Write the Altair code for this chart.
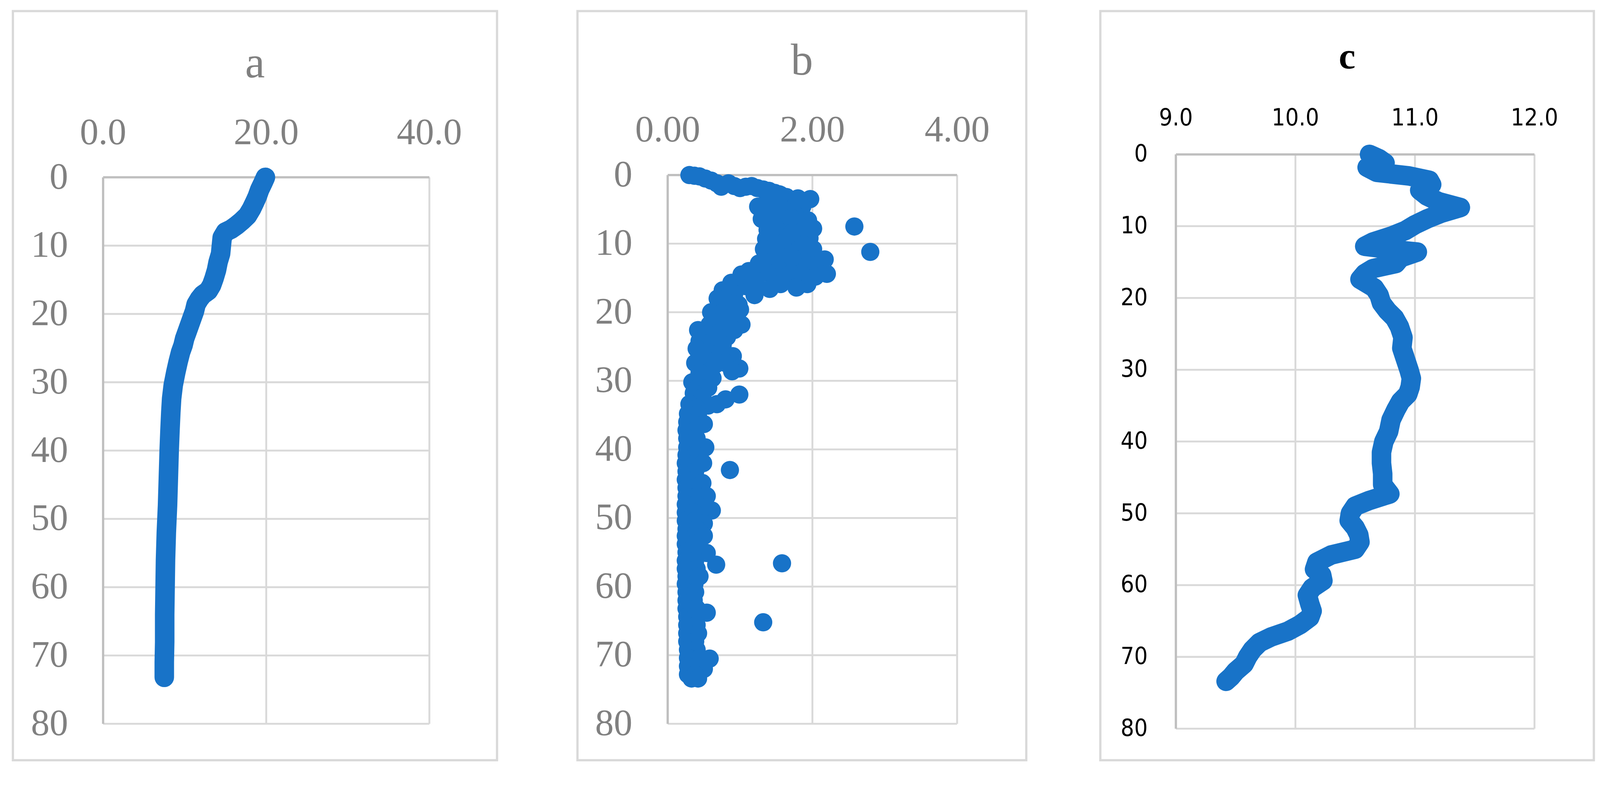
import altair as alt
import pandas as pd

# ---------------- data ----------------
depth_ticks = [0, 10, 20, 30, 40, 50, 60, 70, 80]
depth_labels = ["0", "10", "20", "30", "40", "50", "60", "70", "80"]
a_ticks = [0, 20, 40]
a_labels = ["0.0", "20.0", "40.0"]
b_ticks = [0, 2, 4]
b_labels = ["0.00", "2.00", "4.00"]
c_ticks = [9, 10, 11, 12]
c_labels = ["9.0", "10.0", "11.0", "12.0"]
titles = ["a", "b", "c"]

a_depth = [0.0, 0.8, 1.8, 2.8, 3.6, 4.6, 5.6, 6.4, 7.0, 7.6, 8.0, 8.8, 10.0, 11.2, 12.4,
           13.6, 14.8, 15.8, 16.6, 17.2, 17.8, 18.6, 19.6, 20.6, 21.6, 22.6, 23.6, 24.6,
           25.6, 27.0, 28.6, 30.4, 32.4, 34.4, 37.0, 40.0, 44.0, 48.0, 52.0, 56.0, 60.0,
           64.0, 68.0, 71.0, 73.2]
a_value = [19.9, 19.6, 19.2, 18.9, 18.6, 18.2, 17.7, 17.0, 16.4, 15.7, 15.0, 14.6, 14.5,
           14.4, 14.1, 13.9, 13.6, 13.3, 12.9, 12.2, 11.8, 11.4, 11.2, 10.9, 10.6, 10.3,
           10.0, 9.8, 9.5, 9.2, 8.9, 8.6, 8.4, 8.3, 8.2, 8.1, 8.0, 7.9, 7.75, 7.65, 7.6,
           7.55, 7.55, 7.5, 7.5]

b_depth = [
    0.0, 0.1, 0.2, 0.5, 0.8, 1.2, 1.7, 1.2, 1.6, 1.9, 1.7, 1.6, 1.9, 2.1, 2.3, 2.6, 2.9, 3.2, 3.5,
    4.6, 4.1, 3.9, 3.9, 4.8, 4.6, 6.4, 5.8, 5.4, 5.8, 6.6, 7.0, 7.2, 7.6, 7.8, 8.0, 9.3, 8.8,
    9.0, 9.4, 9.2, 10.8, 10.8, 10.6, 11.2, 11.0, 11.9, 12.3, 13.2, 13.0, 12.8, 13.4, 12.6, 12.9,
    14.2, 14.8, 14.4, 14.6, 14.4, 14.8, 15.9, 16.4, 15.9, 16.6, 17.5, 16.2, 15.4, 14.5, 15.7, 14.0,
    5.0, 6.2, 8.4, 10.0, 10.2, 11.8, 12.0, 3.4, 2.8,
    7.5, 11.2,
    16.8, 17.3, 18.0, 18.6, 18.9, 20.0, 20.2, 19.6, 20.8, 21.8, 21.4, 21.8, 22.6, 22.6, 23.2,
    23.0, 23.6, 24.2, 24.4, 24.8, 25.3, 25.8, 26.0, 26.4, 27.4, 26.8, 27.6, 27.4, 28.2, 28.6,
    28.6, 28.8, 30.2, 29.8, 29.6, 31.0, 31.0, 31.8, 32.0, 32.7, 32.4, 33.4, 33.4, 33.6, 34.0,
    34.8, 34.8, 36.0, 36.0, 36.3, 37.2, 37.2, 38.4, 38.4, 39.7, 39.7, 39.7, 40.8, 40.8,
    42.0, 42.0, 42.0, 43.0, 43.2, 43.2, 44.4, 44.4, 44.9, 45.6, 45.6, 46.8, 46.8, 46.8,
    48.0, 48.0, 48.9, 48.9, 49.2, 49.2, 50.4, 50.4, 50.8, 51.6, 51.6, 52.6, 52.6, 52.6,
    53.8, 53.8, 55.0, 55.0, 55.1, 56.2, 56.2, 56.8, 56.6, 57.4, 57.4, 58.5, 58.5, 59.6,
    59.6, 60.8, 60.8, 62.0, 62.0, 63.2, 63.2, 63.8, 64.4, 64.4, 65.2, 65.6, 65.6, 66.8,
    66.8, 68.0, 68.0, 69.2, 69.2, 70.4, 70.4, 70.5, 71.6, 71.6, 72.0, 72.8, 72.8, 73.4, 73.4,
]
b_value = [
    0.30, 0.37, 0.44, 0.52, 0.60, 0.68, 0.74, 0.84, 0.92, 1.00, 1.08, 1.16, 1.24, 1.32, 1.40, 1.48, 1.56, 1.64, 1.97,
    1.25, 1.38, 1.52, 1.70, 1.72, 1.86, 1.30, 1.44, 1.58, 1.76, 1.94, 1.50, 1.66, 1.84, 2.01, 1.38, 1.36, 1.50,
    1.66, 1.82, 1.96, 2.01, 1.33, 1.48, 1.64, 1.80, 1.94, 2.17, 2.06, 1.90, 1.74, 1.58, 1.44, 1.26,
    1.38, 1.54, 1.70, 1.86, 2.20, 2.04, 1.93, 1.78, 1.56, 1.41, 1.20, 1.08, 1.22, 1.02, 0.88, 1.12,
    1.60, 1.70, 1.72, 1.58, 1.88, 1.55, 1.72, 1.80, 1.54,
    2.58, 2.80,
    0.76, 0.92, 0.69, 0.82, 0.98, 0.60, 0.74, 1.00, 0.88, 0.58, 0.72, 1.02, 0.92, 0.42, 0.56,
    0.72, 0.82, 0.44, 0.60, 0.76, 0.40, 0.54, 0.70, 0.90, 0.38, 0.52, 0.66, 0.80, 0.99, 0.89,
    0.58, 0.44, 0.34, 0.48, 0.62, 0.42, 0.56, 0.36, 0.99, 0.80, 0.48, 0.68, 0.30, 0.56, 0.40,
    0.28, 0.42, 0.27, 0.40, 0.50, 0.26, 0.38, 0.27, 0.40, 0.27, 0.42, 0.52, 0.26, 0.38,
    0.25, 0.40, 0.49, 0.86, 0.26, 0.38, 0.25, 0.40, 0.48, 0.26, 0.38, 0.26, 0.42, 0.54,
    0.25, 0.40, 0.61, 0.45, 0.25, 0.36, 0.25, 0.38, 0.50, 0.26, 0.40, 0.25, 0.38, 0.50,
    0.25, 0.37, 0.26, 0.40, 0.54, 0.25, 0.38, 0.67, 1.58, 0.25, 0.40, 0.26, 0.44, 0.25,
    0.37, 0.26, 0.38, 0.26, 0.36, 0.26, 0.40, 0.54, 0.27, 0.38, 1.32, 0.27, 0.40, 0.27,
    0.42, 0.27, 0.38, 0.28, 0.40, 0.28, 0.44, 0.58, 0.28, 0.40, 0.50, 0.28, 0.38, 0.33, 0.42,
]

c_depth = [0.0, 0.6, 1.2, 1.8, 2.5, 3.0, 3.6, 4.2, 5.0, 5.8, 6.6, 7.4, 8.2, 9.0, 9.8, 10.6,
           11.4, 12.2, 12.8, 13.2, 13.6, 14.4, 15.2, 15.9, 16.6, 17.4, 18.6, 19.6, 20.7, 21.8,
           22.8, 24.0, 25.5, 27.0, 28.5, 30.0, 31.2, 32.4, 33.4, 34.4, 35.6, 37.0, 38.6, 40.0,
           41.5, 43.0, 44.5, 46.0, 47.3, 48.2, 49.0, 50.0, 51.0, 52.0, 53.0, 54.0, 55.0, 55.8,
           56.8, 57.8, 58.6, 59.4, 60.4, 61.4, 62.6, 63.6, 64.5, 65.5, 66.4, 67.2, 68.0, 69.0,
           70.0, 71.0, 72.0, 72.8, 73.4]
c_value = [10.62, 10.70, 10.75, 10.60, 10.68, 10.95, 11.12, 11.14, 11.04, 11.10, 11.20, 11.38,
           11.22, 11.10, 11.00, 10.92, 10.80, 10.65, 10.58, 10.78, 11.02, 10.88, 10.84, 10.65,
           10.58, 10.54, 10.66, 10.70, 10.72, 10.77, 10.83, 10.87, 10.90, 10.89, 10.92, 10.95,
           10.97, 10.96, 10.94, 10.88, 10.84, 10.80, 10.78, 10.74, 10.72, 10.72, 10.73, 10.73,
           10.79, 10.62, 10.50, 10.46, 10.45, 10.50, 10.53, 10.54, 10.50, 10.30, 10.18, 10.16,
           10.22, 10.23, 10.14, 10.10, 10.12, 10.14, 10.12, 10.04, 9.94, 9.80, 9.70, 9.64, 9.60,
           9.57, 9.50, 9.46, 9.42]

# ---------------- style ----------------
BLUE = "#1873C8"
GRID = "#d9d9d9"
AXISLINE = "#bfbfbf"
GRAY = "#808080"


def panel(title, df, kind, xticks, xlabels, xrange, yrange, width, height,
          lab_font, lab_size, lab_color, x_base, y_right,
          t_font, t_size, t_color, t_weight, t_base):
    xmin, xmax = xticks[0], xticks[-1]
    sx = alt.Scale(domain=[xmin, xmax], range=xrange, nice=False, zero=False)
    sy = alt.Scale(domain=[0, 80], range=yrange, nice=False, zero=False)

    def X(f):
        return alt.X(f, type="quantitative", scale=sx, axis=None)

    def Y(f):
        return alt.Y(f, type="quantitative", scale=sy, axis=None)

    vgrid = alt.Chart(pd.DataFrame({"value": xticks[1:]})).mark_rule(
        color=GRID, strokeWidth=5).encode(
        x=X("value"),
        y=alt.YDatum(0, scale=sy, axis=None, type="quantitative"),
        y2=alt.datum(80))
    hgrid = alt.Chart(pd.DataFrame({"depth": depth_ticks[1:]})).mark_rule(
        color=GRID, strokeWidth=5).encode(
        y=Y("depth"),
        x=alt.XDatum(xmin, scale=sx, axis=None, type="quantitative"),
        x2=alt.datum(xmax))
    one = pd.DataFrame({"k": [0]})
    topline = alt.Chart(one).mark_rule(color=AXISLINE, strokeWidth=6).encode(
        y=alt.YDatum(0, scale=sy, axis=None, type="quantitative"),
        x=alt.XDatum(xmin, scale=sx, axis=None, type="quantitative"),
        x2=alt.datum(xmax))
    leftline = alt.Chart(one).mark_rule(color=AXISLINE, strokeWidth=6).encode(
        x=alt.XDatum(xmin, scale=sx, axis=None, type="quantitative"),
        y=alt.YDatum(0, scale=sy, axis=None, type="quantitative"),
        y2=alt.datum(80))

    xlab = alt.Chart(pd.DataFrame({"value": xticks, "lab": xlabels})).mark_text(
        font=lab_font, fontSize=lab_size, color=lab_color, align="center",
        baseline="alphabetic").encode(
        x=X("value"), y=alt.value(x_base), text="lab:N")
    ylab = alt.Chart(pd.DataFrame({"depth": depth_ticks, "lab": depth_labels})).mark_text(
        font=lab_font, fontSize=lab_size, color=lab_color, align="right",
        baseline="middle").encode(
        y=Y("depth"), x=alt.value(y_right), text="lab:N")

    base = alt.Chart(df)
    if kind == "line":
        data = base.mark_line(color=BLUE, strokeWidth=52, strokeCap="round",
                              strokeJoin="round").encode(
            x=X("value"), y=Y("depth"), order=alt.Order("i:Q"))
    else:
        data = base.mark_circle(color=BLUE, size=2350, opacity=1).encode(
            x=X("value"), y=Y("depth"))

    ttl = alt.Chart(pd.DataFrame({"t": [title]})).mark_text(
        font=t_font, fontSize=t_size, color=t_color, fontWeight=t_weight,
        align="center", baseline="alphabetic").encode(
        text="t:N", x=alt.value(width / 2), y=alt.value(t_base))

    return alt.layer(vgrid, hgrid, topline, leftline, data, xlab, ylab, ttl).properties(
        width=width, height=height)


df_a = pd.DataFrame({"depth": a_depth, "value": a_value, "i": range(len(a_depth))})
df_b = pd.DataFrame({"depth": b_depth, "value": b_value})
df_c = pd.DataFrame({"depth": c_depth, "value": c_value, "i": range(len(c_depth))})

H = 1992
pa = panel(titles[0], df_a, "line", a_ticks, a_labels, [240, 1108], [442, 1895], 1288, H,
           "Liberation Serif", 99, GRAY, 354, 147,
           "Liberation Serif", 118, GRAY, "normal", 176)
pb = panel(titles[1], df_b, "scatter", b_ticks, b_labels, [240, 1010], [436, 1895], 1194, H,
           "Liberation Serif", 99, GRAY, 347, 146,
           "Liberation Serif", 118, GRAY, "normal", 169)
pc = panel(titles[2], df_c, "line", c_ticks, c_labels, [201, 1155], [381, 1908], 1313, H,
           "DejaVu Sans Condensed, DejaVu Sans", 63, "#000000", 304, 126,
           "Liberation Serif", 100, "#000000", "bold", 152)

chart = alt.hconcat(alt.hconcat(pa, pb, spacing=208), pc, spacing=191).properties(
    padding={"left": 23, "top": -20, "right": 5, "bottom": -30}
).configure_view(stroke=GRID, strokeWidth=6)

chart.save("out.html", embed_options={"renderer": "svg", "actions": False})
